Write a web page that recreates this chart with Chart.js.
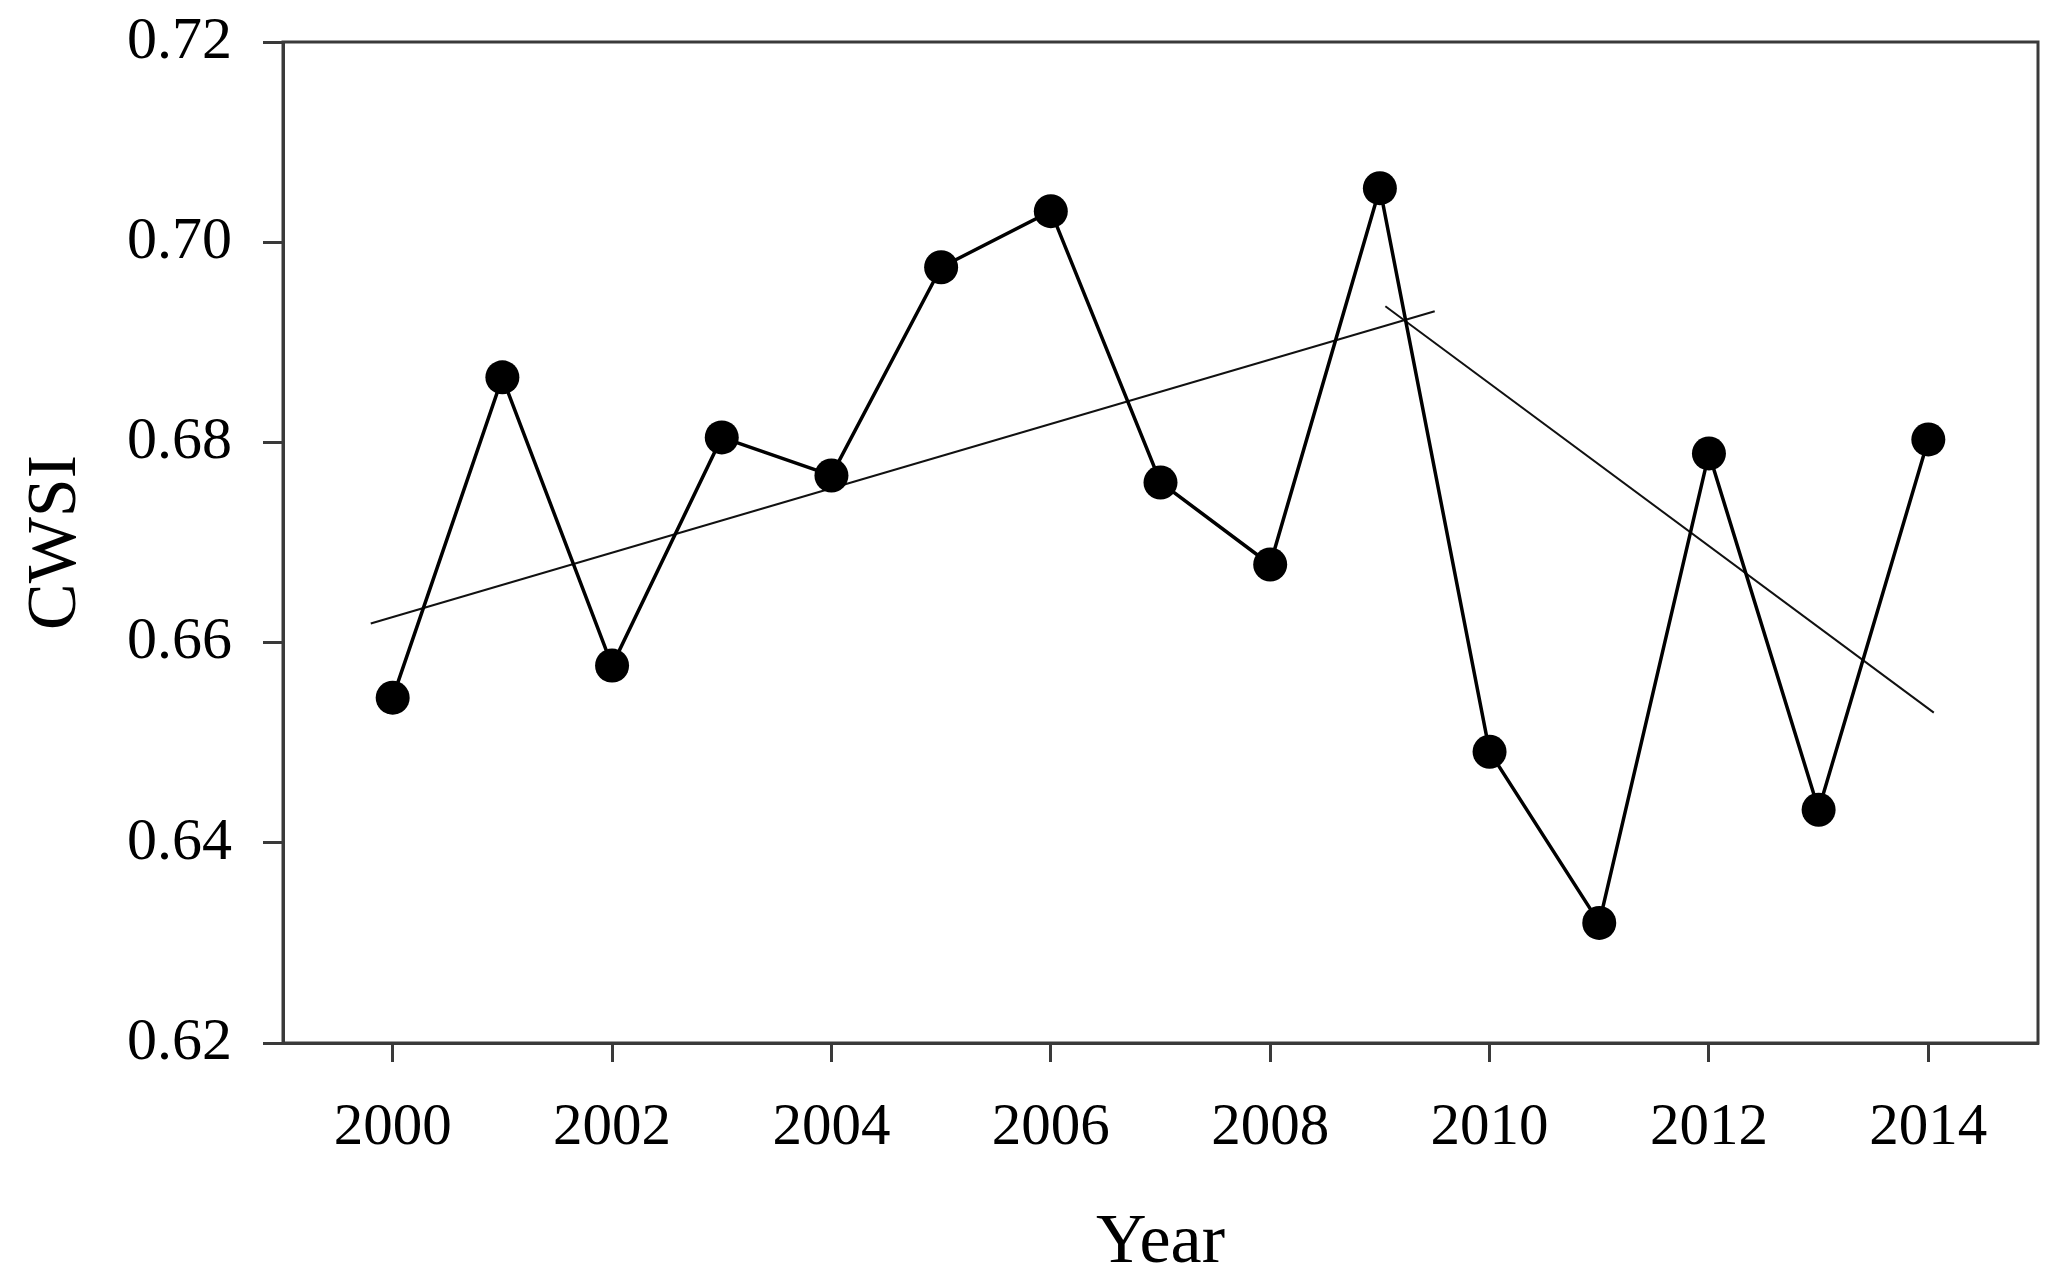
<!DOCTYPE html>
<html>
<head>
<meta charset="utf-8">
<script src="https://cdn.jsdelivr.net/npm/chart.js@4/dist/chart.umd.min.js"></script>
<style>
    html, body { margin: 0; padding: 0; background: #fff; }
    #wrap { width: 2068px; height: 1282px; }
</style>
</head>
<body>
<div id="wrap"><canvas id="cwsi-chart" width="2068" height="1282"></canvas></div>
<script>
// values
const years = [2000, 2001, 2002, 2003, 2004, 2005, 2006, 2007, 2008, 2009, 2010, 2011, 2012, 2013, 2014];
const cwsi = [0.6545, 0.6865, 0.6577, 0.6805, 0.6767, 0.6975, 0.7031, 0.6760, 0.6678, 0.7054, 0.6491, 0.6320, 0.6789, 0.6433, 0.6803];

// two fitted trend segments (end points)
const trend1X = [1999.8, 2009.5];
const trend1Y = [0.6619, 0.6931];
const trend2X = [2009.05, 2014.05];
const trend2Y = [0.6936, 0.6530];

const xTicks = [2000, 2002, 2004, 2006, 2008, 2010, 2012, 2014];
const yTicks = [0.62, 0.64, 0.66, 0.68, 0.70, 0.72];

const axisColor = '#3a3a3a';
const serif = '"Liberation Serif", "Times New Roman", serif';

const toPoints = (xs, ys) => xs.map((x, i) => ({ x: x, y: ys[i] }));

// closes the box on top and right
const framePlugin = {
    id: 'frame',
    afterDatasetsDraw(chart) {
        const { ctx, chartArea } = chart;
        ctx.save();
        ctx.strokeStyle = axisColor;
        ctx.lineWidth = 3;
        ctx.strokeRect(chartArea.left, chartArea.top, chartArea.right - chartArea.left, chartArea.bottom - chartArea.top);
        ctx.restore();
    }
};

const ctx = document.getElementById('cwsi-chart').getContext('2d');
new Chart(ctx, {
    type: 'scatter',
    data: {
        datasets: [
            {
                label: 'CWSI',
                data: toPoints(years, cwsi),
                showLine: true,
                borderColor: '#000',
                borderWidth: 3.5,
                backgroundColor: '#000',
                pointRadius: 17,
                pointBorderWidth: 0,
                order: 0
            },
            {
                label: 'trend 2000-2009',
                data: toPoints(trend1X, trend1Y),
                showLine: true,
                borderColor: '#111',
                borderWidth: 2,
                pointRadius: 0,
                order: 1
            },
            {
                label: 'trend 2009-2014',
                data: toPoints(trend2X, trend2Y),
                showLine: true,
                borderColor: '#111',
                borderWidth: 2,
                pointRadius: 0,
                order: 1
            }
        ]
    },
    options: {
        responsive: false,
        animation: false,
        devicePixelRatio: 1,
        layout: { padding: { top: 42, right: 30, left: 0, bottom: 0 } },
        plugins: {
            legend: { display: false },
            tooltip: { enabled: false }
        },
        scales: {
            x: {
                type: 'linear',
                min: 1999,
                max: 2015,
                afterBuildTicks: scale => { scale.ticks = xTicks.map(v => ({ value: v })); },
                afterFit: scale => { scale.height = 239; },
                grid: { drawOnChartArea: false, tickLength: 19, tickWidth: 3, tickColor: axisColor },
                border: { color: axisColor, width: 3 },
                ticks: {
                    color: '#000',
                    padding: 31,
                    font: { family: serif, size: 59 },
                    callback: v => String(v)
                },
                title: {
                    display: true,
                    text: 'Year',
                    color: '#000',
                    font: { family: serif, size: 70, lineHeight: 1 },
                    padding: { top: 0, bottom: 3 }
                }
            },
            y: {
                min: 0.62,
                max: 0.72,
                afterBuildTicks: scale => { scale.ticks = yTicks.map(v => ({ value: v })); },
                afterFit: scale => {
                    scale.width = 283;
                    scale.paddingTop = 0;
                    scale.paddingBottom = 0;
                },
                grid: { drawOnChartArea: false, tickLength: 20, tickWidth: 3, tickColor: axisColor },
                border: { color: axisColor, width: 3 },
                ticks: {
                    color: '#000',
                    padding: 31,
                    font: { family: serif, size: 60 },
                    callback: v => v.toFixed(2)
                },
                title: {
                    display: true,
                    text: 'CWSI',
                    color: '#000',
                    font: { family: serif, size: 70, lineHeight: 1 },
                    padding: { top: 22, bottom: 0 }
                }
            }
        }
    },
    plugins: [framePlugin]
});
</script>
</body>
</html>
